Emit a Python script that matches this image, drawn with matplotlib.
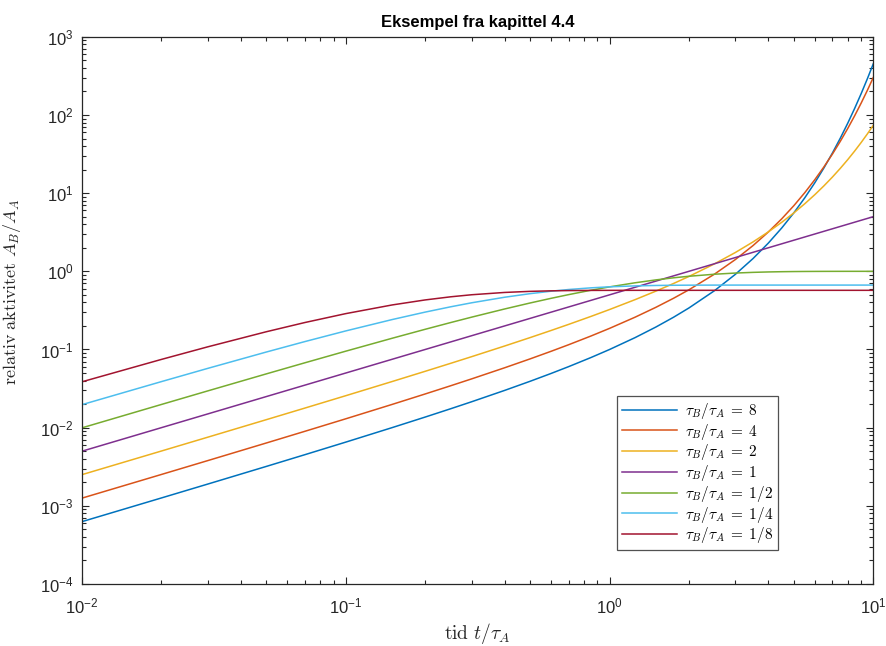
import matplotlib
matplotlib.use("Agg")
import matplotlib.pyplot as plt
from matplotlib.ticker import LogLocator, FuncFormatter, NullFormatter
import numpy as np

plt.rcParams['font.family'] = ['Liberation Sans', 'DejaVu Sans']
plt.rcParams['mathtext.fontset'] = 'cm'

# time t/tau_A
t = [0.01, 0.02, 0.03, 0.05, 0.07, 0.1, 0.15, 0.2, 0.25, 0.3, 0.4, 0.5, 0.6, 0.7,
     0.85, 1.0, 1.25, 1.5, 1.75, 2.0, 2.5, 3.0, 3.5, 4.0, 4.5, 5.0, 5.5, 6.0, 6.5,
     7.0, 7.5, 8.0, 8.5, 9.0, 9.5, 10.0]

ratio_labels = ['8', '4', '2', '1', '1/2', '1/4', '1/8']

act_8 = [6.277e-4, 1.261e-3, 1.900e-3, 3.194e-3, 4.512e-3, 6.532e-3, 0.010019,
         0.013661, 0.017466, 0.021441, 0.029933, 0.039202, 0.049319, 0.06036,
         0.078844, 0.09992, 0.14182, 0.19397, 0.25885, 0.33961, 0.56521, 0.91461,
         1.45578, 2.2940, 3.59216, 5.6029, 8.71707, 13.540, 21.0111, 32.581,
         50.5028, 78.259, 121.25, 187.84, 290.96, 450.69]
act_4 = [1.2547e-3, 2.5189e-3, 3.7925e-3, 6.3687e-3, 8.984e-3, 0.012981, 0.019845,
         0.026972, 0.034372, 0.042054, 0.058310, 0.075832, 0.094719, 0.11508,
         0.148625, 0.18617, 0.25893, 0.34670, 0.45259, 0.58028, 0.92014, 1.41462,
         2.13410, 3.18092, 4.70403, 6.9202, 10.1446, 14.8362, 21.6624, 31.594,
         46.0453, 67.071, 97.664, 142.18, 206.94, 301.17]
act_2 = [2.5063e-3, 5.0252e-3, 7.5566e-3, 0.012658, 0.017810, 0.025636, 0.038942,
         0.052585, 0.066574, 0.080917, 0.110701, 0.14201, 0.174929, 0.20953,
         0.264795, 0.32436, 0.43413, 0.55850, 0.69944, 0.85914, 1.24517, 1.74084,
         2.3773, 3.19453, 4.24387, 5.59125, 7.3213, 9.54277, 12.3952, 16.0578,
         20.7606, 26.7991, 34.5527, 44.5086, 57.292, 73.7066]
act_1 = [0.005, 0.01, 0.015, 0.025, 0.035, 0.05, 0.075, 0.1, 0.125, 0.15, 0.2, 0.25,
         0.3, 0.35, 0.425, 0.5, 0.625, 0.75, 0.875, 1.0, 1.25, 1.5, 1.75, 2.0, 2.25,
         2.5, 2.75, 3.0, 3.25, 3.5, 3.75, 4.0, 4.25, 4.5, 4.75, 5.0]
act_1_2 = [0.0099502, 0.019801, 0.029554, 0.048771, 0.067606, 0.095163, 0.139292,
           0.181269, 0.221199, 0.259182, 0.329680, 0.393469, 0.451188, 0.503415,
           0.572585, 0.632121, 0.713495, 0.776870, 0.826226, 0.864665, 0.917915,
           0.950213, 0.969803, 0.981684, 0.988891, 0.993262, 0.995913, 0.997521,
           0.998497, 0.999088, 0.999447, 0.999665, 0.999797, 0.999877, 0.999925,
           0.999955]
act_1_4 = [0.019703, 0.038823, 0.057379, 0.092861, 0.126277, 0.172788, 0.241581,
           0.300792, 0.351755, 0.395620, 0.465871, 0.517913, 0.556467, 0.585029,
           0.614612, 0.633475, 0.650988, 0.659261, 0.663168, 0.665014, 0.666298,
           0.666584, 0.666648, 0.666663, 0.666666, 0.666667, 0.666667, 0.666667,
           0.666667, 0.666667, 0.666667, 0.666667, 0.666667, 0.666667, 0.666667,
           0.666667]
act_1_8 = [0.038632, 0.074653, 0.108238, 0.168750, 0.221357, 0.287666, 0.371464,
           0.430516, 0.472129, 0.501454, 0.536680, 0.554173, 0.562859, 0.567173,
           0.569940, 0.570908, 0.571338, 0.571413, 0.571429, 0.571429, 0.571429,
           0.571429, 0.571429, 0.571429, 0.571429, 0.571429, 0.571429, 0.571429,
           0.571429, 0.571429, 0.571429, 0.571429, 0.571429, 0.571429, 0.571429,
           0.571429]

series = [act_8, act_4, act_2, act_1, act_1_2, act_1_4, act_1_8]
colors = ['#0072BD', '#D95319', '#EDB120', '#7E2F8E', '#77AC30', '#4DBEEE', '#A2142F']

fig = plt.figure(figsize=(8.87, 6.46), dpi=100)
ax = fig.add_axes([0.0925, 0.096, 0.892, 0.847])

for vals, lab, c in zip(series, ratio_labels, colors):
    ax.plot(t, vals, color=c, lw=1.1, label=r'$\tau_B/\tau_A \;=\; %s$' % lab)

ax.set_xscale('log')
ax.set_yscale('log')
ax.set_xlim(1e-2, 1e1)
ax.set_ylim(1e-4, 1e3)

fmt = FuncFormatter(lambda v, p: r'$\mathregular{10^{%d}}$' % int(round(np.log10(v))))
ax.xaxis.set_major_locator(LogLocator(base=10, numticks=20))
ax.yaxis.set_major_locator(LogLocator(base=10, numticks=20))
ax.xaxis.set_minor_locator(LogLocator(base=10, subs=np.arange(2, 10), numticks=20))
ax.yaxis.set_minor_locator(LogLocator(base=10, subs=np.arange(2, 10), numticks=20))
ax.xaxis.set_major_formatter(fmt)
ax.yaxis.set_major_formatter(fmt)
ax.xaxis.set_minor_formatter(NullFormatter())
ax.yaxis.set_minor_formatter(NullFormatter())

axcol = '#262626'
for s in ax.spines.values():
    s.set_color(axcol)
    s.set_linewidth(0.9)
ax.tick_params(which='both', direction='in', top=True, right=True, colors=axcol,
               labelsize=12, width=0.8)
ax.tick_params(which='major', length=5)
ax.tick_params(axis='x', which='major', pad=9)
ax.tick_params(axis='y', which='major', pad=6)
ax.tick_params(which='minor', length=3)

ax.set_xlabel(r'$\mathrm{tid}\ t/\tau_A$', fontsize=14, color=axcol, labelpad=3)
ax.set_ylabel(r'$\mathrm{relativ\ aktivitet}\ A_B/A_A$', fontsize=13, color=axcol)
ax.yaxis.set_label_coords(-0.074, 0.534)
ax.set_title('Eksempel fra kapittel 4.4', fontsize=12, fontweight='bold', color='black', pad=7)

leg = ax.legend(loc='lower right', bbox_to_anchor=(0.879, 0.062), fontsize=11,
                frameon=True, fancybox=False, edgecolor=axcol, handlelength=3.6,
                borderpad=0.3, labelspacing=0.05, handletextpad=0.5, borderaxespad=0)
leg.get_frame().set_linewidth(0.9)

fig.savefig('out.png', dpi=100)
